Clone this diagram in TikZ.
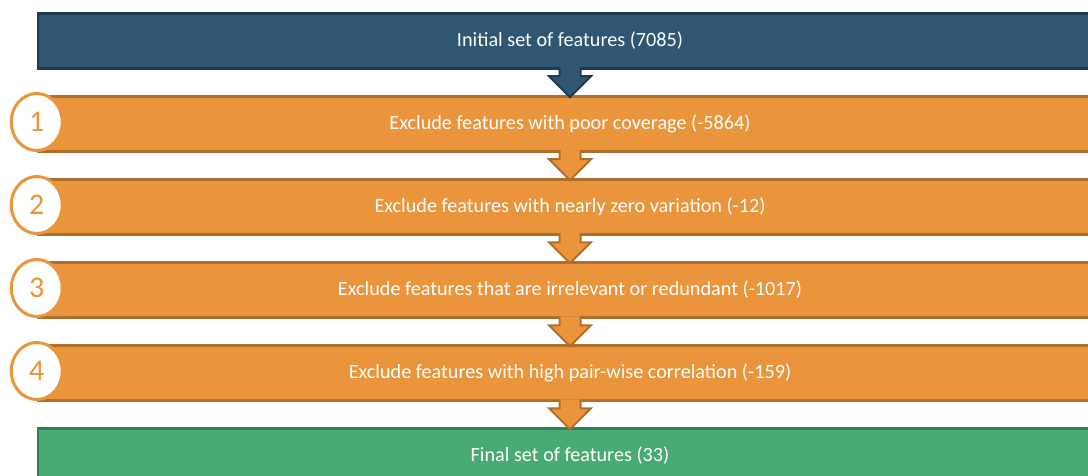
\documentclass[tikz,border=0pt]{standalone}
\usepackage{fontspec}
\setmainfont{Carlito}
\usetikzlibrary{positioning,shapes.geometric}
\definecolor{initblue}{HTML}{2F5672}
\definecolor{initblueline}{HTML}{1E3A52}
\definecolor{steporange}{HTML}{EA943C}
\definecolor{steporangeline}{HTML}{B06E2C}
\definecolor{finalgreen}{HTML}{48AB74}
\definecolor{finalgreenline}{HTML}{2F7D52}

\begin{document}
\begin{tikzpicture}[x=1pt,y=1pt,node distance=83pt,thick]
\tikzstyle{bar}=[rectangle,minimum width=1064pt,minimum height=55pt,line width=2.5pt,text=white,font=\fontsize{20.2}{24}\selectfont]
\tikzstyle{startbar}=[bar,fill=initblue,draw=initblueline]
\tikzstyle{stepbar}=[bar,fill=steporange,draw=steporangeline]
\tikzstyle{endbar}=[bar,fill=finalgreen,draw=finalgreenline]
\tikzstyle{num}=[ellipse,draw=steporange,fill=white,line width=3pt,minimum width=51pt,minimum height=57pt,inner sep=0pt,text=steporange,font=\fontsize{30}{32}\selectfont]
\useasboundingbox (0,0) rectangle (1088,-476);
\clip (0,0) rectangle (1088,-476);
  \node[startbar](init) at (570,-41){Initial set of features (7085)};
  \node[stepbar,below of=init](s1){Exclude features with poor coverage (-5864)};
  \node[stepbar,below of=s1](s2){Exclude features with nearly zero variation (-12)};
  \node[stepbar,below of=s2](s3){Exclude features that are irrelevant or redundant (-1017)};
  \node[stepbar,below of=s3](s4){Exclude features with high pair-wise correlation (-159)};
  \node[endbar,below of=s4](final){Final set of features (33)};
  % block arrows between the bars
  \foreach \a/\b/\f/\l in {init/s1/initblue/initblueline,s1/s2/steporange/steporangeline,s2/s3/steporange/steporangeline,s3/s4/steporange/steporangeline,s4/final/steporange/steporangeline}{
    \fill[\f]([xshift=-10.5pt,yshift=2.5pt]\a.south)--([xshift=-10.5pt,yshift=19pt]\b.north)--([xshift=-21pt,yshift=19pt]\b.north)--([yshift=-2pt]\b.north)--([xshift=21pt,yshift=19pt]\b.north)--([xshift=10.5pt,yshift=19pt]\b.north)--([xshift=10.5pt,yshift=2.5pt]\a.south)--cycle;
    \draw[\l,line width=2pt]([xshift=-10.5pt,yshift=2.5pt]\a.south)--([xshift=-10.5pt,yshift=19pt]\b.north)--([xshift=-21pt,yshift=19pt]\b.north)--([yshift=-2pt]\b.north)--([xshift=21pt,yshift=19pt]\b.north)--([xshift=10.5pt,yshift=19pt]\b.north)--([xshift=10.5pt,yshift=2.5pt]\a.south);
  }
  % step numbers
  \foreach \s/\n in {s1/1,s2/2,s3/3,s4/4}
    \node[num](n\n) at ([yshift=2pt]\s.west){\n};
\end{tikzpicture}
\end{document}
